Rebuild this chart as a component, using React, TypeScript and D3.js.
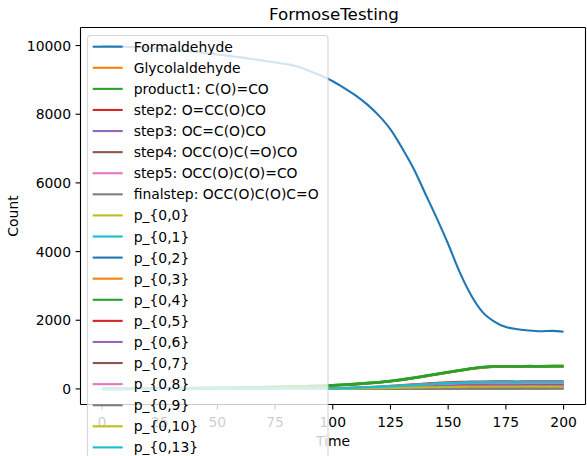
import React from "react";
import * as d3 from "d3";

const W = 587;
const H = 456;

const TIME = [0,5,10,15,20,25,30,35,40,45,50,55,60,65,70,75,80,85,90,95,100,105,110,115,120,125,130,135,140,145,150,155,160,165,170,175,180,185,190,195,200];

const FORMALDEHYDE = [10000,9985,9965,9950,9930,9905,9880,9850,9820,9780,9740,9700,9655,9610,9560,9510,9460,9380,9260,9120,8960,8760,8540,8280,7960,7560,7020,6420,5700,4980,4220,3400,2720,2230,1960,1800,1740,1700,1680,1690,1665];
const GLYCOLALDEHYDE = [0,2,3,5,7,9,12,14,18,21,25,29,33,39,44,50,57,64,74,85,97,117,137,161,187,221,262,313,366,424,478,533,583,621,646,649,645,652,649,656,653];
const PRODUCT1 = [0,2,4,6,8,10,13,16,19,23,27,31,36,41,47,53,60,68,77,88,100,120,142,165,192,225,268,320,375,430,485,540,590,630,652,655,650,658,655,662,660];
const STEP2 = [0,0,0,0,0,0,0,0,0,0,0,1,1,2,2,3,4,5,7,10,15,25,37,52,69,88,110,133,155,175,192,204,212,216,219,220,218,222,220,223,221];
const STEP3 = [0,0,0,0,0,0,0,0,0,0,0,0,1,1,2,2,3,4,6,8,12,20,30,42,56,72,90,108,126,143,157,167,174,178,180,181,179,182,180,183,181];
const STEP4 = [0,0,0,0,0,0,0,0,0,0,0,0,0,0,1,1,1,2,2,3,4,7,10,14,19,25,31,37,43,48,52,55,57,59,60,60,59,61,60,61,60];
const STEP5 = [0,0,0,0,0,0,0,0,0,0,0,1,1,1,2,3,3,5,6,9,13,22,33,46,61,79,98,118,138,156,170,180,186,189,191,192,190,193,191,194,192];
const FINALSTEP = [0,0,0,0,0,0,0,0,0,0,0,0,0,0,0,0,0,0,0,0,0,0,1,1,1,2,2,3,4,5,6,7,8,8,9,9,9,10,9,10,10];
const P_0_0 = [0,0,0,0,0,0,0,0,0,0,0,0,0,1,1,1,2,2,3,4,5,8,12,17,23,30,37,44,51,57,62,66,68,70,70,71,70,72,71,72,71];
const P_0_1 = [0,0,0,0,0,0,0,0,0,0,0,1,1,2,2,3,4,5,7,10,15,24,35,48,63,80,98,118,138,156,172,185,194,200,204,206,205,208,206,209,207];
const P_0_2 = [0,0,0,0,0,0,0,0,0,0,0,0,1,1,1,2,2,3,4,6,9,14,21,29,38,48,59,70,81,91,100,107,112,116,118,119,118,120,119,121,120];
const P_0_3 = [0,1,3,5,7,10,12,15,18,22,26,30,35,40,45,52,58,66,75,86,99,118,140,163,190,223,265,316,371,427,481,536,586,625,648,652,648,655,651,659,656];
const P_0_4 = [0,2,4,6,8,11,13,16,20,23,27,32,36,42,47,54,61,69,78,89,101,121,143,167,193,227,270,322,377,432,487,542,592,632,654,657,652,660,657,664,662];
const P_0_5 = [0,0,0,0,0,0,0,0,0,0,0,0,1,1,2,2,3,4,5,7,11,18,27,37,49,62,76,90,104,117,128,137,143,147,149,150,149,151,150,152,151];
const P_0_6 = [0,0,0,0,0,0,0,0,0,0,0,0,0,1,1,1,2,2,3,4,6,10,15,21,28,36,44,53,62,70,78,85,90,94,96,97,96,98,97,99,98];
const P_0_7 = [0,0,0,0,0,0,0,0,0,0,0,0,0,0,0,1,1,1,1,2,3,4,6,9,12,16,20,24,28,31,34,36,38,39,40,40,39,41,40,41,40];
const P_0_8 = [0,0,0,0,0,0,0,0,0,0,0,0,1,1,2,2,3,4,6,8,12,20,30,41,54,69,85,102,119,134,147,157,163,167,169,170,169,171,170,172,171];
const P_0_9 = [0,0,0,0,0,0,0,0,0,0,0,0,0,0,0,0,0,0,0,0,0,0,0,1,1,1,1,2,2,2,3,3,3,4,4,4,4,5,4,5,5];
const P_0_10 = [0,0,0,0,0,0,0,0,0,0,0,0,0,1,1,1,1,2,3,4,5,7,11,15,20,26,32,39,45,50,55,58,61,63,64,65,64,66,65,66,65];
const P_0_13 = [0,0,0,0,0,0,0,0,0,0,0,1,1,1,2,3,4,5,6,9,14,22,33,45,59,75,92,111,130,147,162,174,182,187,190,192,191,194,192,195,193];

const SERIES_NAMES = [
  "Formaldehyde",
  "Glycolaldehyde",
  "product1: C(O)=CO",
  "step2: O=CC(O)CO",
  "step3: OC=C(O)CO",
  "step4: OCC(O)C(=O)CO",
  "step5: OCC(O)C(O)=CO",
  "finalstep: OCC(O)C(O)C=O",
  "p_{0,0}",
  "p_{0,1}",
  "p_{0,2}",
  "p_{0,3}",
  "p_{0,4}",
  "p_{0,5}",
  "p_{0,6}",
  "p_{0,7}",
  "p_{0,8}",
  "p_{0,9}",
  "p_{0,10}",
  "p_{0,13}",
];
const SERIES_VALUES = [
  FORMALDEHYDE, GLYCOLALDEHYDE, PRODUCT1, STEP2, STEP3, STEP4, STEP5, FINALSTEP,
  P_0_0, P_0_1, P_0_2, P_0_3, P_0_4, P_0_5, P_0_6, P_0_7, P_0_8, P_0_9, P_0_10, P_0_13,
];

const X_TICKS = [0, 25, 50, 75, 100, 125, 150, 175, 200];
const Y_TICKS = [0, 2000, 4000, 6000, 8000, 10000];

const TITLE = "FormoseTesting";
const X_LABEL = "Time";
const Y_LABEL = "Count";

const FONT = "'DejaVu Sans', sans-serif";
const FS = 13.9;

export default function App() {
  const left = 80.5, right = 585.5, top = 27.5, bottom = 404.5;
  const x = d3.scaleLinear().domain([-9.3, 209.5]).range([left, right]);
  const y = d3.scaleLinear().domain([-454, 10526]).range([bottom, top]);
  const colors = d3.schemeCategory10;

  const line = d3
    .line<number>()
    .x((_, i) => x(TIME[i]))
    .y((d) => y(d))
    .curve(d3.curveMonotoneX);

  const legX = 87.5, legY = 35.5, legW = 240.5;
  const rowH = 21.09;
  const row0 = 46.7;
  const legH = (SERIES_NAMES.length + 1) * rowH + 20;

  return (
    <svg
      width={W}
      height={H}
      style={{ position: "fixed", left: 0, top: 0, background: "#fff" }}
      fontFamily={FONT}
    >
      <rect x={0} y={0} width={W} height={H} fill="#fff" />
      <defs>
        <clipPath id="plotclip">
          <rect x={left} y={top} width={right - left} height={bottom - top} />
        </clipPath>
      </defs>
      <g clipPath="url(#plotclip)">
        {SERIES_VALUES.map((vals, i) => (
          <path
            key={i}
            d={line(vals) || ""}
            fill="none"
            stroke={colors[i % 10]}
            strokeWidth={i === 2 || i === 12 ? 2.8 : 2.1}
            strokeLinejoin="round"
          />
        ))}
      </g>
      {/* spines */}
      <g stroke="#000" strokeWidth={1.1} fill="none">
        <line x1={left} x2={left} y1={top} y2={bottom} />
        <line x1={right} x2={right} y1={top} y2={bottom} />
        <line x1={left} x2={right} y1={top} y2={top} />
        <line x1={left} x2={right} y1={bottom} y2={bottom} />
      </g>
      {/* x ticks */}
      {X_TICKS.map((t) => (
        <g key={"x" + t}>
          <line x1={x(t)} x2={x(t)} y1={bottom} y2={bottom + 4.9} stroke="#000" strokeWidth={1.1} />
          <text x={x(t)} y={427} textAnchor="middle" fontSize={FS} fill="#000">
            {t}
          </text>
        </g>
      ))}
      {/* y ticks */}
      {Y_TICKS.map((t) => (
        <g key={"y" + t}>
          <line x1={left - 4.9} x2={left} y1={y(t)} y2={y(t)} stroke="#000" strokeWidth={1.1} />
          <text x={71} y={y(t) + 5} textAnchor="end" fontSize={FS} fill="#000">
            {t}
          </text>
        </g>
      ))}
      <text x={(left + right) / 2} y={446} textAnchor="middle" fontSize={FS} fill="#000">
        {X_LABEL}
      </text>
      <text
        transform={`translate(17.5,${(top + bottom) / 2}) rotate(-90)`}
        textAnchor="middle"
        fontSize={FS}
        fill="#000"
      >
        {Y_LABEL}
      </text>
      <text x={334} y={20} textAnchor="middle" fontSize={16.7} fill="#000">
        {TITLE}
      </text>
      {/* legend */}
      <g>
        <rect
          x={legX}
          y={legY}
          width={legW}
          height={legH}
          rx={3}
          ry={3}
          fill="#fff"
          fillOpacity={0.8}
          stroke="#cccccc"
          strokeOpacity={0.8}
          strokeWidth={1.1}
        />
        {SERIES_NAMES.map((name, i) => {
          const cy = row0 + i * rowH;
          return (
            <g key={name}>
              <line x1={92.7} x2={122.7} y1={cy} y2={cy} stroke={colors[i % 10]} strokeWidth={2.1} />
              <text x={133.7} y={cy + 5} fontSize={FS} fill="#000">
                {name}
              </text>
            </g>
          );
        })}
      </g>
    </svg>
  );
}
